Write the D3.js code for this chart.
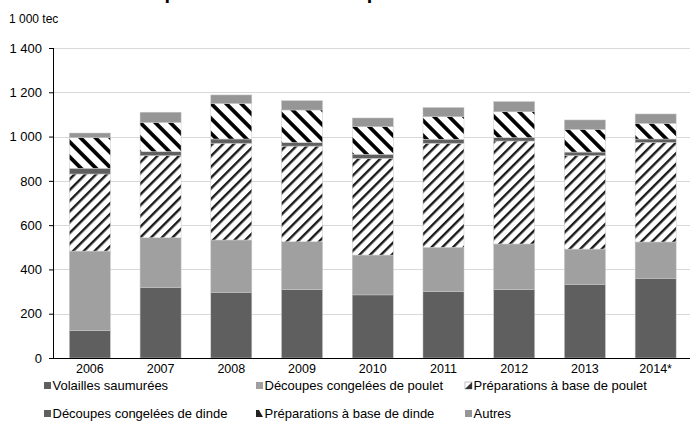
<!DOCTYPE html>
<html><head><meta charset="utf-8">
<script src="https://cdn.jsdelivr.net/npm/d3@7/dist/d3.min.js"></script>
<style>
html,body{margin:0;padding:0;background:#fff;}
svg{display:block;font-family:"Liberation Sans",Arial,sans-serif;}
</style></head>
<body>
<svg id="chart" width="690" height="423"></svg>
<script>
const years = ["2006","2007","2008","2009","2010","2011","2012","2013","2014*"];
const volaillesSaumurees = [123, 319, 297, 309, 285, 300, 309, 333, 360];
const decoupesPoulet     = [360, 224, 236, 216, 180, 200, 206, 159, 164];
const preparationsPoulet = [348, 371, 437, 432, 437, 470, 465, 422, 450];
const decoupesDinde      = [26, 18, 19, 16, 18, 18, 15, 16, 15];
const preparationsDinde  = [138, 132, 161, 147, 125, 102, 117, 103, 71];
const autres             = [21, 46, 38, 42, 39, 41, 46, 42, 42];
const seriesNames = ["Volailles saumurées","Découpes congelées de poulet","Préparations à base de poulet",
                     "Découpes congelées de dinde","Préparations à base de dinde","Autres"];
const yTicks = [0,200,400,600,800,1000,1200,1400];
const yUnit = "1 000 tec";
const title = "Exportations totales de produits";

const seriesValues = [volaillesSaumurees, decoupesPoulet, preparationsPoulet, decoupesDinde, preparationsDinde, autres];
const keys = ["s0","s1","s2","s3","s4","s5"];
const rows = years.map((y,i)=>{const o={year:y}; keys.forEach((k,j)=>o[k]=seriesValues[j][i]); return o;});

const svg = d3.select("#chart");
const defs = svg.append("defs");
function stripes(id, period, w, angle, color){
  const p = defs.append("pattern").attr("id",id).attr("patternUnits","userSpaceOnUse")
    .attr("width",period).attr("height",period).attr("patternTransform",`rotate(${angle})`);
  p.append("rect").attr("width",period).attr("height",period).attr("fill","#fff");
  p.append("rect").attr("x",0).attr("width",w).attr("height",period).attr("fill",color);
}
stripes("pPoulet", 7.6, 2.4, 45, "#1a1a1a");
stripes("pDinde", 10.6, 3.8, -45, "#000");

const fills = ["#5f5f5f","#a0a0a0","url(#pPoulet)","#5f5f5f","url(#pDinde)","#969696"];

const x0 = 53, x1 = 690, yTop = 48, yBot = 358;
const x = d3.scaleBand().domain(years).range([54.5, 691]).paddingInner(0.42).paddingOuter(0.21);
const y = d3.scaleLinear().domain([0,1400]).range([yBot, yTop]);

// title (clipped above the picture, as in the reference)
svg.append("text").attr("x",140).attr("y",-1).attr("font-size",20).attr("font-weight","bold")
  .attr("fill","#000").text(title);

svg.append("text").attr("x",9).attr("y",23).attr("font-size",12).attr("fill","#000").text(yUnit);

// gridlines
svg.append("g").selectAll("line").data(yTicks.filter(d=>d>0)).join("line")
  .attr("x1",x0).attr("x2",x1).attr("y1",d=>Math.round(y(d))+0.5).attr("y2",d=>Math.round(y(d))+0.5)
  .attr("stroke","#d9d9d9").attr("stroke-width",1);

// y axis
const yAxis = svg.append("g").attr("transform",`translate(${x0},0)`)
  .call(d3.axisLeft(y).tickValues(yTicks).tickSize(4).tickPadding(7)
    .tickFormat(d=>d3.format(",")(d).replace(/,/g," ")));
yAxis.select(".domain").remove();
yAxis.selectAll("line").attr("stroke","#000");
yAxis.selectAll("text").attr("font-size",13).attr("font-family","Liberation Sans, Arial, sans-serif").attr("fill","#000");

// bars
const stack = d3.stack().keys(keys)(rows);
svg.append("g").selectAll("g").data(stack).join("g")
  .attr("fill",(d,i)=>fills[i])
  .selectAll("rect").data(d=>d).join("rect")
  .attr("x",d=>x(d.data.year)).attr("width",x.bandwidth())
  .attr("y",d=>y(d[1])).attr("height",d=>y(d[0])-y(d[1]))
  .attr("stroke","#c8c8c8").attr("stroke-width",0.5);

// axis lines
svg.append("line").attr("x1",x0+0.5).attr("x2",x0+0.5).attr("y1",yTop).attr("y2",yBot).attr("stroke","#000");
const xAxis = svg.append("g").attr("transform",`translate(0,${yBot})`)
  .call(d3.axisBottom(x).tickSize(0).tickPadding(6));
xAxis.select(".domain").remove();
xAxis.selectAll("text").attr("font-size",12.5).attr("font-family","Liberation Sans, Arial, sans-serif").attr("fill","#000");
svg.append("line").attr("x1",x0).attr("x2",x1).attr("y1",yBot+0.5).attr("y2",yBot+0.5).attr("stroke","#000");

// legend
const legendPos = [[44,386],[256,386],[465,386],[44,414],[256,414],[465,414]];
const lg = svg.append("g").selectAll("g").data(seriesNames).join("g")
  .attr("transform",(d,i)=>`translate(${legendPos[i][0]},${legendPos[i][1]})`);
lg.each(function(d,i){
  const g = d3.select(this);
  if(i===2){
    g.append("rect").attr("x",0).attr("y",-4).attr("width",7).attr("height",7).attr("fill","#fff").attr("stroke","#999").attr("stroke-width",0.6);
    g.append("path").attr("d","M7,-4 L7,3 L0,3 Z").attr("fill","#333");
  } else if(i===4){
    g.append("path").attr("d","M0,-4 L3,-4 L7,3 L0,3 Z").attr("fill","#222");
  } else {
    g.append("rect").attr("x",0).attr("y",-4).attr("width",7).attr("height",7).attr("fill",fills[i]);
  }
  g.append("text").attr("x",8.5).attr("y",4).attr("font-size",13).attr("fill","#000").text(d);
});
</script>
</body></html>
